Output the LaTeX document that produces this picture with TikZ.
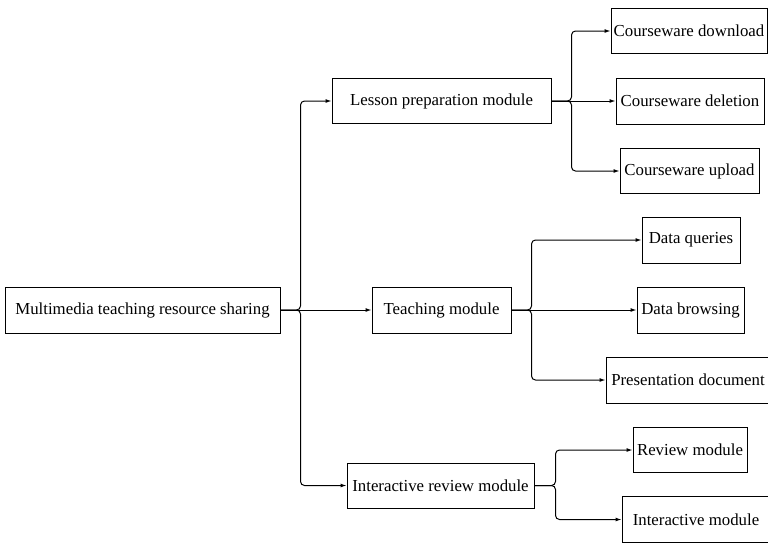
\documentclass[tikz,border=0pt]{standalone}
\usepackage{fontspec}
\setmainfont{Liberation Serif}
\usepackage{tikz}
\usetikzlibrary{arrows.meta,positioning,calc}

\begin{document}
\begin{tikzpicture}[
    x=1pt, y=-1pt,
    box/.style={rectangle, draw=black, line width=1pt, minimum height=46pt, inner sep=0pt, font=\fontsize{16.8}{20}\selectfont},
    link/.style={line width=1pt, rounded corners=4pt, -{Latex[length=6pt,width=4pt]}}
]
\useasboundingbox (0,0) rectangle (768,542);

% Root
\node[box, minimum width=275pt] (root) at (142.5,310) {Multimedia teaching resource sharing};

% Modules
\node[box, minimum width=219pt, minimum height=45pt] (lesson) at (441.5,101) {Lesson preparation module};
\node[box, minimum width=139pt] (teach) at (441.5,310) {Teaching module};
\node[box, minimum width=187pt, minimum height=45pt] (review) at (440.5,485.5) {Interactive review module};

% Functions
\node[box, minimum width=156pt, minimum height=45pt] (cdown) at (689,31) {Courseware download};
\node[box, minimum width=148pt] (cdel) at (690,101) {Courseware deletion};
\node[box, minimum width=139pt, minimum height=45pt] (cup) at (689.5,171) {Courseware upload};
\node[box, minimum width=98pt] (dquery) at (691,240) {Data queries};
\node[box, minimum width=107pt] (dbrowse) at (690.5,310) {Data browsing};
\node[box, minimum width=164pt] (pdoc) at (688,380) {Presentation document};
\node[box, minimum width=114pt, minimum height=45pt] (rmod) at (690,450) {Review module};
\node[box, minimum width=148pt] (imod) at (696,519.5) {Interactive module};

% Forks
\coordinate (rootfork) at ($(root.east)+(20,0)$);
\coordinate (lessonfork) at ($(lesson.east)+(20,0)$);
\coordinate (teachfork) at ($(teach.east)+(20,0)$);
\coordinate (reviewfork) at ($(review.east)+(21,0)$);

% Connections
\draw[link] (root.east) -- (rootfork) |- (lesson.west);
\draw[link] (root.east) -- (teach.west);
\draw[link] (root.east) -- (rootfork) |- (review.west);

\draw[link] (lesson.east) -- (lessonfork) |- (cdown.west);
\draw[link] (lesson.east) -- (cdel.west);
\draw[link] (lesson.east) -- (lessonfork) |- (cup.west);

\draw[link] (teach.east) -- (teachfork) |- (dquery.west);
\draw[link] (teach.east) -- (dbrowse.west);
\draw[link] (teach.east) -- (teachfork) |- (pdoc.west);

\draw[link] (review.east) -- (reviewfork) |- (rmod.west);
\draw[link] (review.east) -- (reviewfork) |- (imod.west);

\end{tikzpicture}
\end{document}
